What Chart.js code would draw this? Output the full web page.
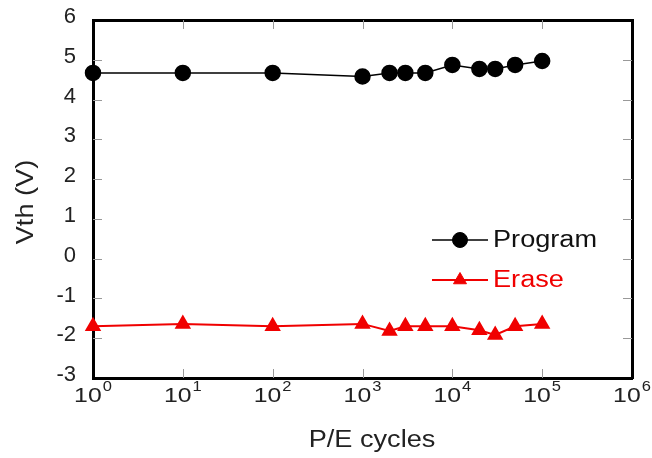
<!DOCTYPE html>
<html>
<head>
<meta charset="utf-8">
<script src="https://cdn.jsdelivr.net/npm/chart.js@4.4.1/dist/chart.umd.min.js"></script>
<style>
  html, body { margin: 0; padding: 0; background: #fff; }
  #wrap { width: 652px; height: 458px; }
</style>
</head>
<body>
<div id="wrap"><canvas id="c" width="652" height="458"></canvas></div>
<script>
const cycles = [1, 10, 100, 1000, 2000, 3000, 5000, 10000, 20000, 30000, 50000, 100000];
const programVth = [4.67, 4.67, 4.67, 4.58, 4.67, 4.67, 4.67, 4.87, 4.77, 4.77, 4.87, 4.97];
const eraseVth = [-1.7, -1.64, -1.7, -1.64, -1.82, -1.7, -1.7, -1.7, -1.8, -1.92, -1.7, -1.64];
const xDecades = [0, 1, 2, 3, 4, 5, 6];
const yTicks = [-3, -2, -1, 0, 1, 2, 3, 4, 5, 6];
const seriesNames = ['Program', 'Erase'];
const xTitle = 'P/E cycles';
const yTitle = 'Vth (V)';

const FONT = "'Liberation Sans', Arial, sans-serif";
const SX = 1.18; // horizontal stretch of the reference lettering

function wideText(ctx, text, x, y, font, align) {
  ctx.font = font;
  const w = ctx.measureText(text).width * SX;
  let x0 = x;
  if (align === 'center') x0 = x - w / 2;
  else if (align === 'right') x0 = x - w;
  ctx.save();
  ctx.translate(x0, y);
  ctx.scale(SX, 1);
  ctx.textAlign = 'left';
  ctx.fillText(text, 0, 0);
  ctx.restore();
  return w;
}

function noPad(s) { s.paddingTop = 0; s.paddingBottom = 0; s.paddingLeft = 0; s.paddingRight = 0; }

const decorPlugin = {
  id: 'decor',
  afterDatasetsDraw(chart) {
    const ctx = chart.ctx;
    const a = chart.chartArea;
    const xs = chart.scales.x, ys = chart.scales.y;
    ctx.save();
    ctx.strokeStyle = '#999';
    ctx.lineWidth = 1;
    const L = 9;
    ctx.beginPath();
    xDecades.forEach(d => {
      if (d === 0 || d === 6) return;
      const px = Math.round(xs.getPixelForValue(Math.pow(10, d))) + 0.5;
      ctx.moveTo(px, a.bottom); ctx.lineTo(px, a.bottom - L);
      ctx.moveTo(px, a.top); ctx.lineTo(px, a.top + L);
    });
    yTicks.forEach(v => {
      if (v === -3 || v === 6) return;
      const py = Math.round(ys.getPixelForValue(v)) + 0.5;
      ctx.moveTo(a.left, py); ctx.lineTo(a.left + L, py);
      ctx.moveTo(a.right, py); ctx.lineTo(a.right - L, py);
    });
    ctx.stroke();
    ctx.restore();
  },
  afterDraw(chart) {
    const ctx = chart.ctx;
    const a = chart.chartArea;
    const xs = chart.scales.x;
    ctx.save();
    ctx.fillStyle = '#222';
    ctx.textBaseline = 'alphabetic';
    const big = '21px ' + FONT, small = '14px ' + FONT;
    // x tick labels 10^n
    xDecades.forEach(d => {
      const px = xs.getPixelForValue(Math.pow(10, d));
      ctx.font = big;
      const w1 = ctx.measureText('10').width * SX;
      ctx.font = small;
      const w2 = ctx.measureText(String(d)).width * SX;
      const x0 = px - (w1 + w2 + 1) / 2;
      const base = a.bottom + 24;
      wideText(ctx, '10', x0, base, big, 'left');
      wideText(ctx, String(d), x0 + w1 + 1, base - 11, small, 'left');
    });
    // axis titles
    const tf = '23px ' + FONT;
    wideText(ctx, xTitle, 372, 447, tf, 'center');
    ctx.save();
    ctx.translate(27, 202);
    ctx.rotate(-Math.PI / 2);
    ctx.textBaseline = 'middle';
    wideText(ctx, yTitle, 0, 0, tf, 'center');
    ctx.restore();
    // legend
    const ds = chart.data.datasets;
    const lx0 = 432, lx1 = 488, rows = [240, 280];
    ds.forEach((d, i) => {
      const y = rows[i];
      ctx.strokeStyle = d.borderColor;
      ctx.lineWidth = d.borderWidth;
      ctx.beginPath(); ctx.moveTo(lx0, y); ctx.lineTo(lx1, y); ctx.stroke();
      ctx.fillStyle = d.pointBackgroundColor;
      ctx.strokeStyle = d.pointBorderColor;
      ctx.lineWidth = 1;
      Chart.helpers.drawPoint(ctx, { pointStyle: d.pointStyle, radius: d.pointRadius, rotation: 0, borderWidth: 1 }, (lx0 + lx1) / 2, y);
      ctx.fillStyle = i === 0 ? '#111' : d.borderColor;
      ctx.textBaseline = 'middle';
      wideText(ctx, d.label, lx1 + 5, y + 1, '23px ' + FONT, 'left');
    });
    ctx.restore();
  }
};

new Chart(document.getElementById('c'), {
  type: 'line',
  data: {
    labels: cycles,
    datasets: [
      {
        label: seriesNames[0],
        data: cycles.map((c, i) => ({ x: c, y: programVth[i] })),
        borderColor: '#000',
        backgroundColor: '#000',
        pointBackgroundColor: '#000',
        pointBorderColor: '#000',
        borderWidth: 1.5,
        pointStyle: 'circle',
        pointRadius: 7.5,
        clip: false
      },
      {
        label: seriesNames[1],
        data: cycles.map((c, i) => ({ x: c, y: eraseVth[i] })),
        borderColor: '#f00000',
        backgroundColor: '#f00000',
        pointBackgroundColor: '#f00000',
        pointBorderColor: '#f00000',
        borderWidth: 2,
        pointStyle: 'triangle',
        pointRadius: 7.5,
        clip: false
      }
    ]
  },
  options: {
    responsive: false,
    animation: false,
    layout: { padding: { top: 20, right: 20, left: 0, bottom: 0 } },
    plugins: { legend: { display: false }, tooltip: { enabled: false } },
    elements: { line: { tension: 0 } },
    scales: {
      x: {
        type: 'logarithmic',
        position: 'bottom',
        min: 1, max: 1e6,
        grid: { display: false, drawTicks: false },
        border: { display: true, color: '#000', width: 3 },
        ticks: { display: false },
        afterFit(s) { s.height = 80; noPad(s); }
      },
      x2: {
        type: 'logarithmic',
        position: 'top',
        min: 1, max: 1e6,
        grid: { display: false, drawTicks: false },
        border: { display: true, color: '#000', width: 3 },
        ticks: { display: false },
        afterFit(s) { s.height = 0; noPad(s); }
      },
      y: {
        type: 'linear',
        position: 'left',
        min: -3, max: 6,
        afterBuildTicks(s) { s.ticks = yTicks.map(v => ({ value: v })); },
        grid: { display: false, drawTicks: false },
        border: { display: true, color: '#000', width: 3 },
        ticks: { color: '#222', padding: 17, labelOffset: -3, font: { family: FONT, size: 22 } },
        afterFit(s) { s.width = 93; noPad(s); }
      },
      y2: {
        type: 'linear',
        position: 'right',
        min: -3, max: 6,
        grid: { display: false, drawTicks: false },
        border: { display: true, color: '#000', width: 3 },
        ticks: { display: false },
        afterFit(s) { s.width = 0; noPad(s); }
      }
    }
  },
  plugins: [decorPlugin]
});
</script>
</body>
</html>
